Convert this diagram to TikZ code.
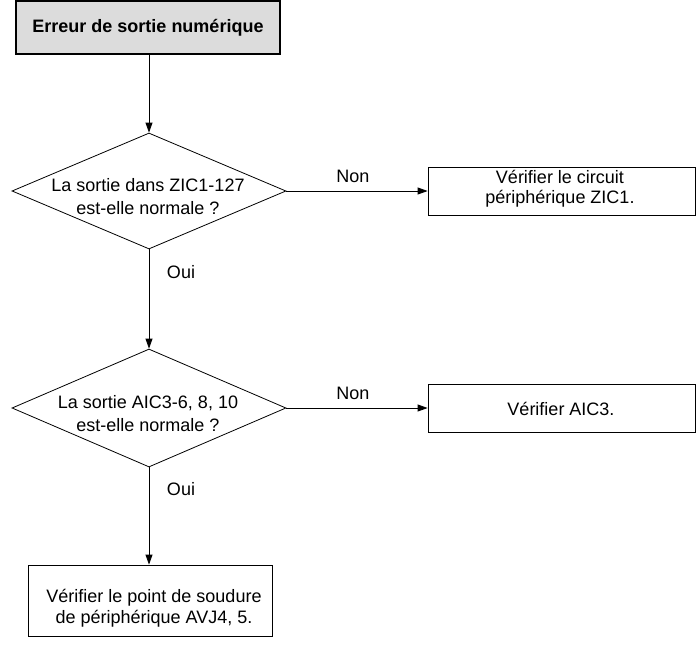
\documentclass[tikz,border=0pt]{standalone}
\usepackage{fontspec}
\setmainfont{Liberation Sans}
\usetikzlibrary{shapes.geometric,arrows.meta}
\definecolor{titlegray}{RGB}{220,220,220}
\begin{document}
\begin{tikzpicture}[x=1pt,y=-1pt,
  base/.style={draw=black, line width=0.8pt, inner sep=0pt},
  txt/.style={font=\fontsize{18}{23}\selectfont, align=center, inner sep=0pt},
  titlebox/.style={base, fill=titlegray, line width=1.1pt, minimum width=264pt, minimum height=53pt, font=\fontsize{18}{21}\selectfont\bfseries},
  procbox/.style={base, minimum width=267pt, minimum height=48pt},
  decision/.style={base, diamond, minimum width=274pt, minimum height=116pt},
  conn/.style={draw=black, line width=0.8pt, -{Triangle[length=10pt,width=7pt]}},
  lbl/.style={font=\fontsize{18}{21}\selectfont, inner sep=0pt}
]
\useasboundingbox (0,0) rectangle (699,648);

\node[titlebox] (title) at (148,27.5) {Erreur de sortie numérique};

\node[decision] (d1) at (149,191) {};
\node[txt] (d1t) at (148,197) {La sortie dans ZIC1-127\\est-elle normale ?};

\node[procbox] (b1) at (561.5,191) {};
\node[txt, font=\fontsize{18}{20}\selectfont] (b1t) at (560,189) {Vérifier le circuit\\périphérique ZIC1.};

\node[decision, minimum height=118pt] (d2) at (149,408) {};
\node[txt] (d2t) at (148,414) {La sortie AIC3-6, 8, 10\\est-elle normale ?};

\node[procbox] (b2) at (561.5,408) {};
\node[txt] (b2t) at (561,409) {Vérifier AIC3.};

\node[base, minimum width=244pt, minimum height=71pt] (b3) at (150,600.5) {};
\node[txt, font=\fontsize{18}{21}\selectfont] (b3t) at (154,608) {Vérifier le point de soudure\\de périphérique AVJ4, 5.};

\draw[conn] (title.south -| d1.north) -- (d1.north);
\draw[conn] (d1.east) -- (b1.west) node[lbl, pos=0.47, yshift=15pt] {Non};
\draw[conn] (d1.south) -- (d2.north) node[lbl, pos=0.23, xshift=32pt] {Oui};
\draw[conn] (d2.east) -- (b2.west) node[lbl, pos=0.47, yshift=15pt] {Non};
\draw[conn] (d2.south) -- (d2.south |- b3.north) node[lbl, pos=0.22, xshift=32pt] {Oui};
\end{tikzpicture}
\end{document}
